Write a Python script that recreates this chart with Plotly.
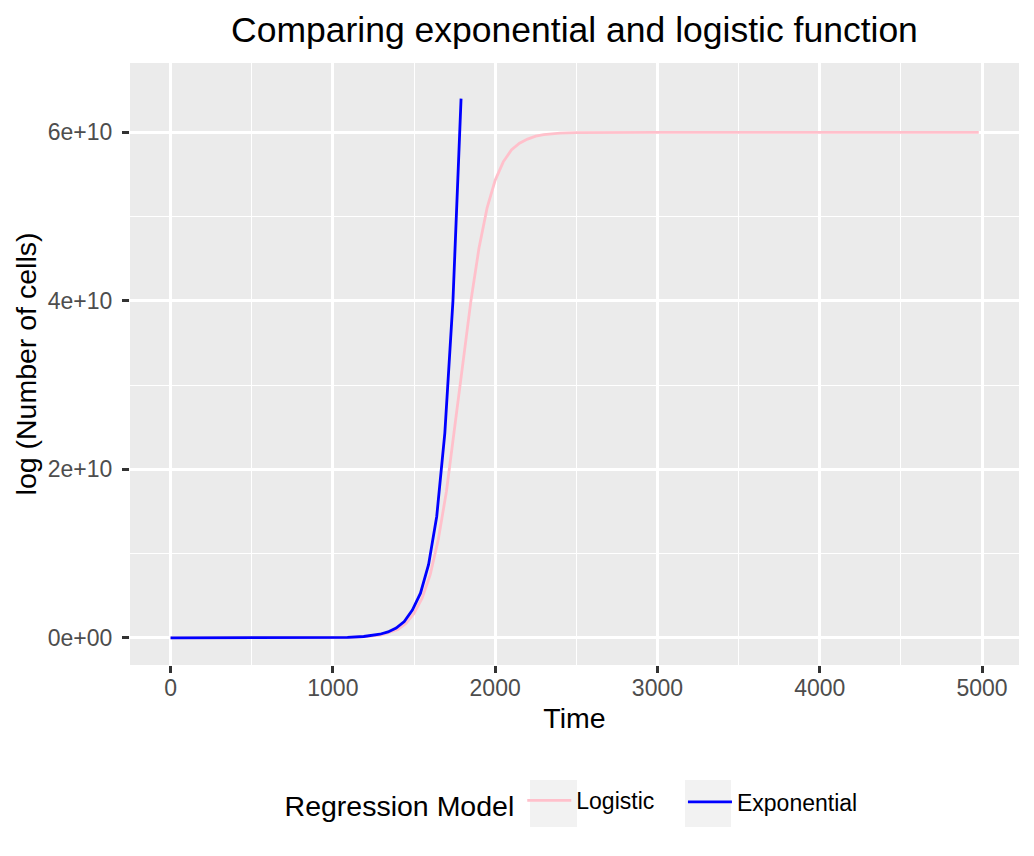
import plotly.graph_objects as go

# values
exp_time = [0, 240, 490, 740, 990, 1090, 1190, 1240, 1290, 1340, 1390, 1440,
            1490, 1540, 1590, 1640, 1690, 1740, 1790]
exp_cells = [1.0e3, 1.1e4, 1.4e5, 1.7e6, 2.0e7, 5.6e7, 1.54e8, 2.55e8, 4.2e8,
             7.0e8, 1.16e9, 1.93e9, 3.3e9, 5.3e9, 8.7e9, 1.44e10, 2.43e10,
             4.0e10, 6.4e10]

log_time = [0, 500, 1000, 1100, 1200, 1300, 1400, 1450, 1500, 1550, 1600, 1650,
            1700, 1750, 1800, 1850, 1900, 1950, 2000, 2050, 2100, 2150, 2200,
            2250, 2300, 2400, 2500, 3000, 4000, 4980]
log_cells = [1.0e3, 1.2e5, 1.6e7, 4.5e7, 1.27e8, 3.6e8, 1.0e9, 1.7e9, 2.9e9,
             4.7e9, 7.5e9, 1.17e10, 1.74e10, 2.46e10, 3.24e10, 3.99e10, 4.62e10,
             5.10e10, 5.43e10, 5.65e10, 5.79e10, 5.87e10, 5.92e10, 5.955e10,
             5.973e10, 5.99e10, 5.997e10, 6.0e10, 6.0e10, 6.0e10]

x_ticks = [0, 1000, 2000, 3000, 4000, 5000]
y_ticks = [0, 2e10, 4e10, 6e10]
y_ticktext = ["0e+00", "2e+10", "4e+10", "6e+10"]

FONT = "Liberation Sans, Arial, sans-serif"

fig = go.Figure()
fig.add_trace(go.Scatter(x=log_time, y=log_cells, mode="lines", name="Logistic",
                         line=dict(color="pink", width=2.8), legend="legend"))
fig.add_trace(go.Scatter(x=exp_time, y=exp_cells, mode="lines", name="Exponential",
                         line=dict(color="blue", width=2.8), legend="legend2"))

axis_common = dict(
    showline=False, zeroline=False,
    gridcolor="white", gridwidth=2.7,
    ticks="outside", ticklen=7, tickwidth=2.6, tickcolor="#333333",
    tickfont=dict(family=FONT, size=23, color="#4D4D4D"),
)

fig.update_xaxes(
    range=[-250, 5228], tickvals=x_ticks, ticklabelstandoff=-5,
    minor=dict(dtick=500, tick0=0, showgrid=True, gridcolor="white", gridwidth=1.4, ticks=""),
    title=dict(text="Time", font=dict(family=FONT, size=28.5, color="black"), standoff=8),
    **axis_common,
)
fig.update_yaxes(
    range=[-0.323e10, 6.823e10], tickvals=y_ticks, ticktext=y_ticktext, ticklabelstandoff=5,
    minor=dict(dtick=1e10, tick0=0, showgrid=True, gridcolor="white", gridwidth=1.4, ticks=""),
    title=dict(text="log (Number of cells)", font=dict(family=FONT, size=28.5, color="black"), standoff=2),
    **axis_common,
)

# grey legend key backgrounds (ggplot style)
for x0, x1 in [(0.4499, 0.5028), (0.6243, 0.676)]:
    fig.add_shape(type="rect", xref="paper", yref="paper", x0=x0, x1=x1,
                  y0=-0.269, y1=-0.191, fillcolor="#F2F2F2", line_width=0, layer="below")

# the page adds an 8px body margin, so margins are shifted by 8px
fig.update_layout(
    width=1034, height=856,
    margin=dict(l=122, r=23, t=55, b=199),
    plot_bgcolor="#EBEBEB", paper_bgcolor="white",
    title=dict(text="Comparing exponential and logistic function",
               font=dict(family=FONT, size=35.5, color="black"),
               x=0.5, xref="paper", xanchor="center",
               y=1 - 22 / 856, yref="container", yanchor="middle"),
    legend=dict(orientation="h", x=0.1716, xanchor="left", y=-0.229, yanchor="middle",
                title=dict(text="Regression Model", side="left",
                           font=dict(family=FONT, size=28.5, color="black")),
                font=dict(family=FONT, size=23, color="black"),
                itemwidth=44, bgcolor="rgba(0,0,0,0)"),
    legend2=dict(orientation="h", x=0.622, xanchor="left", y=-0.2274, yanchor="middle",
                 font=dict(family=FONT, size=23, color="black"),
                 itemwidth=44, bgcolor="rgba(0,0,0,0)"),
    showlegend=True,
)

fig.write_html("out.html")
